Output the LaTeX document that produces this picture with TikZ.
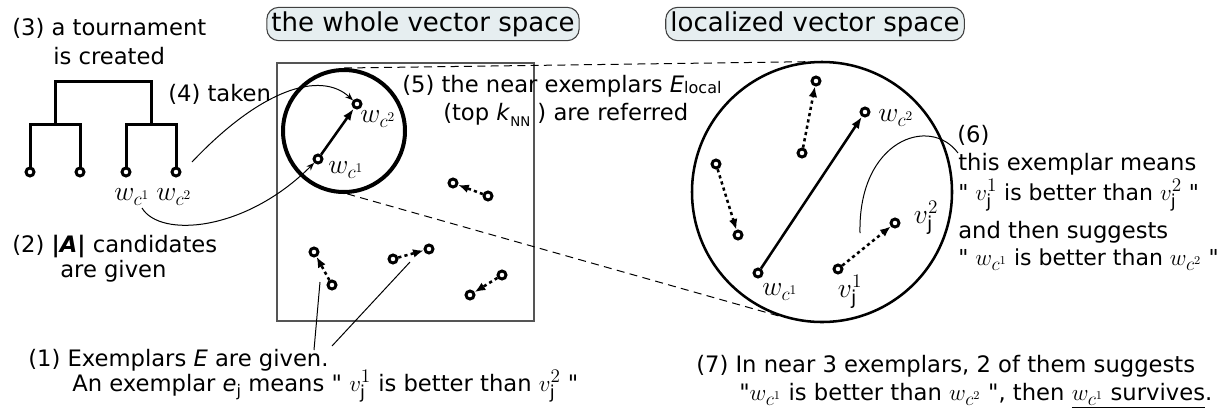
\documentclass[tikz,border=0pt]{standalone}
\usepackage{fontspec}
\setmainfont{DejaVu Sans}
\newfontfamily\qfont{DejaVu Sans}
\usetikzlibrary{arrows.meta}
\definecolor{titlefill}{HTML}{E6EEF0}
\definecolor{boxgray}{HTML}{555555}
\newcommand\mw[1]{{\fontsize{20.5}{20.5}\selectfont$#1$}}
\newcommand\mt[1]{{\fontsize{19}{19}\selectfont$#1$}}
\newcommand\dq{{\qfont"}}
\begin{document}
\begin{tikzpicture}[x=0.75pt,y=-0.75pt,
  txt/.style={anchor=base west, inner sep=0pt, font=\fontsize{17}{20}\selectfont},
  txtn/.style={anchor=base west, inner sep=0pt, font=\fontsize{16.5}{20}\selectfont},
  titlebox/.style={draw=black!75, line width=0.8pt, fill=titlefill, rounded corners=9pt,
     font=\fontsize{19.5}{22}\selectfont, inner xsep=3.5pt, inner ysep=0pt, minimum height=25pt},
  pt/.style={circle, draw, fill=white, line width=2.2pt, minimum size=6pt, inner sep=0pt},
  treeline/.style={line width=2.25pt},
  lbl/.style={inner sep=0pt},
  conn/.style={line width=0.75pt},
  connarr/.style={line width=0.75pt, -{Stealth[length=6pt,width=4.5pt]}},
  dotarr/.style={line width=1.9pt, dash pattern=on 2.4pt off 2.4pt, -{Latex[length=8pt,width=6.5pt]}},
  solarr/.style={line width=1.9pt, -{Latex[length=9pt,width=6.5pt]}},
  dashline/.style={line width=0.75pt, dash pattern=on 6pt off 4pt},
]
\useasboundingbox (0,0) rectangle (1228,415);

% titles
\node[titlebox] (title1) at (423,24) {the whole vector space};
\node[titlebox] (title2) at (815,24) {localized vector space};

% whole vector space box and zoom circles
\node[draw=boxgray, line width=1.1pt, minimum width=192.75pt, minimum height=193.5pt, inner sep=0pt] (wrect) at (405.5,192) {};
\node[circle, draw, line width=3pt, minimum size=91.5pt, inner sep=0pt] (lc) at (344,131) {};
\node[circle, draw, line width=1.9pt, minimum size=195pt, inner sep=0pt] (rc) at (822,192) {};
\draw[dashline] (lc.north) -- (rc.97);
\draw[dashline] (lc.273) -- (rc.251);

% tournament tree
\node[pt] (l1) at (30,172) {};
\node[pt] (l2) at (80,172) {};
\node[pt] (l3) at (126,172) {};
\node[pt] (l4) at (176,172) {};
\coordinate (jl) at (55,124);
\coordinate (jr) at (151,124);
\coordinate (root) at (103,81);
\draw[treeline] (l1.north) |- (jl) -| (l2.north);
\draw[treeline] (l3.north) |- (jr) -| (l4.north);
\draw[treeline] (jl) |- (root) -| (jr);
\node[lbl] (lw1) at (132,197) {\mw{w_{c^1}}};
\node[lbl] (lw2) at (174,197) {\mw{w_{c^2}}};

% points in the whole space
\node[pt] (wc1) at (318,159) {};
\node[pt] (wc2) at (357,104) {};
\draw[solarr] (wc1) -- (wc2);
\node[lbl] at (346,170) {\mw{w_{c^1}}};
\node[lbl] at (378,119) {\mw{w_{c^2}}};

\node[pt] (a1) at (453,183) {};
\node[pt] (a2) at (488,196) {};
\draw[dotarr] (a2) -- (a1);
\node[pt] (b1) at (314,252) {};
\node[pt] (b2) at (332,285) {};
\draw[dotarr] (b2) -- (b1);
\node[pt] (c1) at (393,259) {};
\node[pt] (c2) at (429,249) {};
\draw[dotarr] (c1) -- (c2);
\node[pt] (d1) at (502,275) {};
\node[pt] (d2) at (470,295) {};
\draw[dotarr] (d1) -- (d2);

% points in localized space
\node[pt] (r1) at (816,81) {};
\node[pt] (r2) at (802,153) {};
\draw[dotarr] (r2) -- (r1);
\node[pt] (r3) at (716,164) {};
\node[pt] (r4) at (738,235) {};
\draw[dotarr] (r3) -- (r4);
\node[pt] (rw1) at (758,273) {};
\node[pt] (rw2) at (865,112) {};
\draw[solarr] (rw1) -- (rw2);
\node[pt] (rv1) at (838,269) {};
\node[pt] (rv2) at (895,223) {};
\draw[dotarr] (rv1) -- (rv2);
\node[lbl] at (780,292) {\mw{w_{c^1}}};
\node[lbl] at (896,118) {\mw{w_{c^2}}};
\node[lbl] at (850,292) {\mw{v^1_{\mathrm{j}}}};
\node[lbl] at (926,218) {\mw{v^2_{\mathrm{j}}}};

% texts
\node[txt] (t3a) at (12,35) {(3) a tournament};
\node[txt] (t3b) at (53,64) {is created};
\node[txt] (t4) at (168,101) {(4) taken};
\node[txt] (t2a) at (12,252) {(2) \textbf{|\textit{A}|} candidates};
\node[txt] (t2b) at (60,277) {are given};
\node[txt] (t5a) at (402,92) {(5) the near exemplars \textit{E}{\fontsize{12}{12}\selectfont\raisebox{-1pt}{local}}};
\node[txt] (t5b) at (443,120) {(top \textit{k}{\fontsize{10}{10}\selectfont\raisebox{-5pt}{NN}}\ ) are referred};
\node[txt] (t6a) at (957,142) {(6)};
\node[txt] (t6b) at (958,170) {this exemplar means};
\node[txtn] (t6c) at (958,200) {\dq{} \mt{v^1_{\mathrm{j}}} is better than \mt{v^2_{\mathrm{j}}} \dq};
\node[txt] (t6d) at (958,238) {and then suggests};
\node[txtn] (t6e) at (958,265) {\dq{} \mt{w_{c^1}} is better than \mt{w_{c^2}} \dq};
\node[txt] (t1a) at (28,366) {(1) Exemplars \textit{E} are given.};
\node[txt] (t1b) at (72,391) {An exemplar \textit{e}{\fontsize{12}{12}\selectfont\raisebox{-4pt}{j}} means \dq{} \mt{v^1_{\mathrm{j}}} is better than \mt{v^2_{\mathrm{j}}} \dq};
\node[txt] (t7a) at (696,372) {(7) In near 3 exemplars, 2 of them suggests};
\node[txt] (t7b) at (739,400) {\dq\mt{w_{c^1}} is better than \mt{w_{c^2}} \dq, then \underline{\mt{w_{c^1}} survives}.};

% connectors
\coordinate (s4) at (192,162);
\draw[connarr] (s4) .. controls (260,90) and (320,70) .. (wc2);
\coordinate (s2) at (142,208);
\draw[connarr] (s2) .. controls (160,238) and (245,232) .. (wc1);
\coordinate (e1a) at (320,282);
\coordinate (e1b) at (410,262);
\coordinate (g1) at (314,350);
\coordinate (g2) at (332,346);
\draw[conn] (e1a) -- (g1);
\draw[conn] (e1b) -- (g2);
\coordinate (s6) at (860,233);
\coordinate (e6) at (958,153);
\draw[conn] (s6) .. controls (858,140) and (930,115) .. (e6);
\end{tikzpicture}
\end{document}
